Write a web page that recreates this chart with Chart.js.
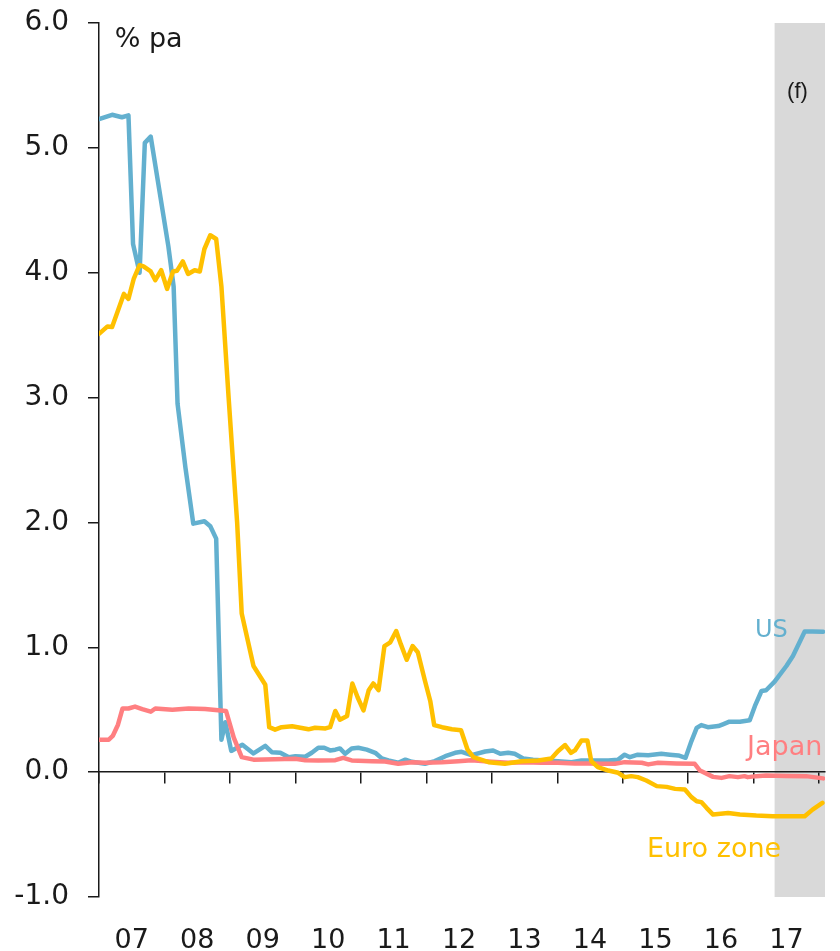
<!DOCTYPE html>
<html>
<head>
<meta charset="utf-8">
<title>Short-term interest rates</title>
<script src="https://cdn.jsdelivr.net/npm/chart.js@4.4.1/dist/chart.umd.min.js"></script>
<style>
  html, body { margin: 0; padding: 0; background: #ffffff; }
  #wrap { width: 840px; height: 951px; }
</style>
</head>
<body>
<div id="wrap"><canvas id="rates" width="840" height="951"></canvas></div>
<script>
// Decimal-year positions and rates (% pa) for each economy
const usDates = [2007.00, 2007.20, 2007.35, 2007.45, 2007.52, 2007.62, 2007.70, 2007.79, 2008.06, 2008.14,
  2008.20, 2008.32, 2008.44, 2008.61, 2008.70, 2008.79, 2008.87, 2008.93, 2009.02, 2009.19,
  2009.36, 2009.54, 2009.64, 2009.77, 2009.90, 2010.00, 2010.15, 2010.25, 2010.35, 2010.44,
  2010.53, 2010.61, 2010.68, 2010.76, 2010.86, 2010.96, 2011.09, 2011.22, 2011.32, 2011.42,
  2011.57, 2011.68, 2011.78, 2011.88, 2011.98, 2012.13, 2012.29, 2012.44, 2012.54, 2012.69,
  2012.90, 2013.02, 2013.13, 2013.25, 2013.35, 2013.48, 2013.63, 2013.81, 2014.01, 2014.22,
  2014.37, 2014.57, 2014.78, 2014.93, 2015.03, 2015.11, 2015.23, 2015.39, 2015.59, 2015.72,
  2015.85, 2015.96, 2016.05, 2016.13, 2016.20, 2016.30, 2016.46, 2016.53, 2016.63, 2016.79,
  2016.94, 2017.02, 2017.12, 2017.19, 2017.32, 2017.50, 2017.60, 2017.78, 2017.90, 2018.06];
const usRates = [5.23, 5.265, 5.245, 5.26, 4.23, 4.00, 5.04, 5.09, 4.21, 3.89,
  2.95, 2.44, 1.99, 2.01, 1.97, 1.87, 0.26, 0.40, 0.17, 0.22,
  0.15, 0.21, 0.16, 0.155, 0.12, 0.128, 0.123, 0.155, 0.195, 0.195,
  0.174, 0.18, 0.19, 0.147, 0.19, 0.195, 0.18, 0.155, 0.11, 0.094,
  0.075, 0.10, 0.083, 0.075, 0.067, 0.088, 0.128, 0.155, 0.163, 0.136,
  0.165, 0.174, 0.147, 0.155, 0.147, 0.11, 0.10, 0.094, 0.088, 0.08,
  0.094, 0.094, 0.094, 0.10, 0.14, 0.12, 0.14, 0.136, 0.147, 0.14,
  0.134, 0.115, 0.249, 0.355, 0.377, 0.36, 0.369, 0.383, 0.404, 0.404,
  0.415, 0.53, 0.65, 0.656, 0.725, 0.85, 0.93, 1.126, 1.126, 1.124];

const euroDates = [2007.00, 2007.13, 2007.20, 2007.38, 2007.45, 2007.53, 2007.62, 2007.68, 2007.79, 2007.86,
  2007.95, 2008.04, 2008.13, 2008.19, 2008.28, 2008.36, 2008.46, 2008.54, 2008.61, 2008.70,
  2008.79, 2008.87, 2008.98, 2009.11, 2009.18, 2009.36, 2009.54, 2009.60, 2009.69, 2009.79,
  2009.95, 2010.20, 2010.30, 2010.46, 2010.53, 2010.61, 2010.68, 2010.79, 2010.87, 2010.95,
  2011.04, 2011.12, 2011.19, 2011.27, 2011.36, 2011.45, 2011.54, 2011.61, 2011.70, 2011.79,
  2011.87, 2011.98, 2012.06, 2012.12, 2012.24, 2012.39, 2012.53, 2012.63, 2012.72, 2012.95,
  2013.20, 2013.46, 2013.71, 2013.91, 2014.01, 2014.12, 2014.21, 2014.27, 2014.37, 2014.46,
  2014.52, 2014.62, 2014.78, 2014.93, 2015.03, 2015.13, 2015.23, 2015.36, 2015.52, 2015.67,
  2015.80, 2015.95, 2016.05, 2016.13, 2016.20, 2016.28, 2016.38, 2016.61, 2016.79, 2017.04,
  2017.29, 2017.55, 2017.78, 2017.90, 2018.05];
const euroRates = [3.51, 3.57, 3.565, 3.83, 3.79, 3.95, 4.06, 4.05, 4.01, 3.94,
  4.02, 3.87, 4.01, 4.015, 4.09, 3.99, 4.02, 4.01, 4.19, 4.30,
  4.27, 3.89, 3.00, 2.00, 1.27, 0.85, 0.70, 0.36, 0.34, 0.36,
  0.367, 0.343, 0.356, 0.35, 0.36, 0.49, 0.42, 0.45, 0.71, 0.60,
  0.495, 0.656, 0.71, 0.656, 1.01, 1.04, 1.13, 1.025, 0.90, 1.01,
  0.96, 0.73, 0.57, 0.377, 0.36, 0.343, 0.335, 0.18, 0.12, 0.08,
  0.067, 0.088, 0.094, 0.11, 0.168, 0.217, 0.155, 0.174, 0.254, 0.254,
  0.088, 0.04, 0.013, -0.005, -0.04, -0.032, -0.04, -0.067, -0.112, -0.118,
  -0.134, -0.139, -0.20, -0.233, -0.24, -0.286, -0.34, -0.327, -0.34, -0.348,
  -0.353, -0.353, -0.353, -0.30, -0.246];

const japanDates = [2007.00, 2007.15, 2007.21, 2007.29, 2007.36, 2007.45, 2007.55, 2007.66, 2007.79, 2007.86,
  2008.12, 2008.37, 2008.62, 2008.94, 2009.06, 2009.18, 2009.36, 2010.00, 2010.15, 2010.35,
  2010.61, 2010.73, 2010.86, 2011.17, 2011.37, 2011.57, 2011.78, 2011.98, 2012.24, 2012.49,
  2012.69, 2013.00, 2013.25, 2013.51, 2013.76, 2014.01, 2014.27, 2014.47, 2014.68, 2014.88,
  2015.03, 2015.29, 2015.39, 2015.54, 2015.82, 2016.10, 2016.18, 2016.38, 2016.51, 2016.63,
  2016.76, 2016.86, 2016.91, 2017.04, 2017.19, 2017.50, 2017.80, 2018.06];
const japanRates = [0.26, 0.26, 0.29, 0.38, 0.51, 0.51, 0.525, 0.505, 0.484, 0.51,
  0.50, 0.51, 0.505, 0.49, 0.275, 0.12, 0.10, 0.107, 0.096, 0.094,
  0.096, 0.115, 0.094, 0.088, 0.085, 0.067, 0.08, 0.075, 0.08, 0.088,
  0.096, 0.083, 0.075, 0.08, 0.075, 0.075, 0.07, 0.07, 0.067, 0.067,
  0.08, 0.075, 0.062, 0.075, 0.07, 0.067, 0.013, -0.038, -0.046, -0.032,
  -0.04, -0.032, -0.04, -0.032, -0.027, -0.03, -0.032, -0.05];

// Axis ticks and labels
const yearTicks = [2007, 2008, 2009, 2010, 2011, 2012, 2013, 2014, 2015, 2016, 2017, 2018];
const yearLabels = ['07', '08', '09', '10', '11', '12', '13', '14', '15', '16', '17'];
const rateTicks = [-1, 0, 1, 2, 3, 4, 5, 6];
const xMin = 2007, xMax = 2018.09;
const forecastStart = 2017.32; // shaded forecast period begins here

const COLORS = { us: '#63B0CF', euro: '#FFC000', japan: '#FF7F81', axis: '#1a1a1a', shade: '#D9D9D9' };
const FONT = '"DejaVu Sans", "Noto Sans", sans-serif';

function pts(xs, ys) { return xs.map((x, i) => ({ x: x, y: ys[i] })); }

const lineStyle = { borderWidth: 4.5, pointRadius: 0, tension: 0, borderJoinStyle: 'round', borderCapStyle: 'round', fill: false };

// Forecast shading, drawn beneath the axes and lines
const shadePlugin = {
  id: 'forecastShade',
  beforeDraw(chart) {
    const { ctx, chartArea, scales } = chart;
    ctx.save();
    ctx.fillStyle = '#ffffff';
    ctx.fillRect(0, 0, chart.width, chart.height);
    const x0 = scales.x.getPixelForValue(forecastStart);
    ctx.fillStyle = COLORS.shade;
    ctx.fillRect(x0, chartArea.top, chartArea.right - x0, chartArea.bottom - chartArea.top);
    ctx.restore();
  }
};

// Series names, unit and forecast marker placed in data space
const annotations = [
  { text: '% pa', x: 2007.24, y: 5.86, color: COLORS.axis, size: 27, align: 'left' },
  { text: '(f)', x: 2017.67, y: 5.45, color: COLORS.axis, size: 22, align: 'center', family: '"Liberation Sans Narrow", "Liberation Sans", sans-serif' },
  { text: 'US', x: 2017.27, y: 1.13, color: COLORS.us, size: 24, align: 'center' },
  { text: 'Japan', x: 2016.90, y: 0.19, color: COLORS.japan, size: 27, align: 'left' },
  { text: 'Euro zone', x: 2015.37, y: -0.62, color: COLORS.euro, size: 27, align: 'left' }
];
const labelPlugin = {
  id: 'seriesLabels',
  afterDatasetsDraw(chart) {
    const { ctx, scales } = chart;
    ctx.save();
    ctx.textBaseline = 'middle';
    annotations.forEach(a => {
      ctx.font = a.size + 'px ' + (a.family || FONT);
      ctx.fillStyle = a.color;
      ctx.textAlign = a.align;
      ctx.fillText(a.text, scales.x.getPixelForValue(a.x), scales.y.getPixelForValue(a.y));
    });
    ctx.restore();
  }
};

new Chart(document.getElementById('rates'), {
  type: 'line',
  data: {
    datasets: [
      Object.assign({ label: 'Euro zone', data: pts(euroDates, euroRates), borderColor: COLORS.euro, order: 1 }, lineStyle),
      Object.assign({ label: 'Japan', data: pts(japanDates, japanRates), borderColor: COLORS.japan, order: 2 }, lineStyle),
      Object.assign({ label: 'US', data: pts(usDates, usRates), borderColor: COLORS.us, order: 3 }, lineStyle)
    ]
  },
  options: {
    responsive: false,
    animation: false,
    events: [],
    layout: { padding: { top: 23, right: 15, left: 0, bottom: 0 } },
    plugins: { legend: { display: false }, tooltip: { enabled: false } },
    scales: {
      x: {
        type: 'linear',
        min: xMin, max: xMax,
        position: { y: 0 },
        afterBuildTicks(scale) { scale.ticks = yearTicks.map(v => ({ value: v })); },
        grid: { drawOnChartArea: false, drawTicks: true, tickLength: 11, color: COLORS.axis, lineWidth: 1.5 },
        border: { display: true, color: COLORS.axis, width: 1.5 },
        ticks: { display: false }
      },
      xLabels: {
        type: 'linear',
        axis: 'x',
        min: xMin, max: xMax,
        position: 'bottom',
        afterBuildTicks(scale) { scale.ticks = yearLabels.map((l, i) => ({ value: yearTicks[i] + 0.5 })); },
        afterFit(scale) { scale.height = 54; scale.paddingLeft = 0; scale.paddingRight = 0; },
        grid: { display: false, drawTicks: false },
        border: { display: false },
        ticks: {
          autoSkip: false, maxRotation: 0, padding: 28,
          color: COLORS.axis, font: { family: FONT, size: 27 },
          callback: (v, i) => yearLabels[i]
        }
      },
      y: {
        type: 'linear',
        min: -1, max: 6,
        position: 'left',
        afterBuildTicks(scale) { scale.ticks = rateTicks.map(v => ({ value: v })); },
        afterFit(scale) { scale.width = 99; scale.paddingTop = 0; scale.paddingBottom = 0; },
        grid: { drawOnChartArea: false, drawTicks: true, tickLength: 11, color: COLORS.axis, lineWidth: 1.5 },
        border: { display: true, color: COLORS.axis, width: 1.5 },
        ticks: {
          padding: 19, color: COLORS.axis, font: { family: FONT, size: 28 },
          callback: v => v.toFixed(1)
        }
      }
    }
  },
  plugins: [shadePlugin, labelPlugin]
});
</script>
</body>
</html>
